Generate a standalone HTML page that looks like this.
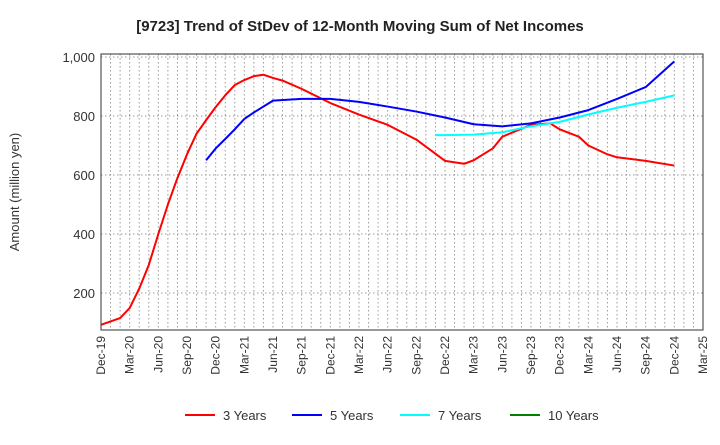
<!DOCTYPE html>
<html><head><meta charset="utf-8"><style>
body{margin:0;background:#fff;font-family:"Liberation Sans",sans-serif}
</style></head><body>
<svg id="c" width="720" height="440" xmlns="http://www.w3.org/2000/svg">
<text x="360" y="31" text-anchor="middle" font-size="15" font-weight="bold" fill="#222">[9723]  Trend of StDev of 12-Month Moving Sum of Net Incomes</text>
<text transform="translate(19,192) rotate(-90)" text-anchor="middle" font-size="13" fill="#333">Amount (million yen)</text>
<g id="grid"></g><g id="series"></g><g id="axes"></g>
<g id="legend"></g>
</svg>
<script>
const xLabels=["Dec-19","Mar-20","Jun-20","Sep-20","Dec-20","Mar-21","Jun-21","Sep-21","Dec-21","Mar-22","Jun-22","Sep-22","Dec-22","Mar-23","Jun-23","Sep-23","Dec-23","Mar-24","Jun-24","Sep-24","Dec-24","Mar-25"];
const yTicks=[200,400,600,800,1000];
const seriesNames=["3 Years","5 Years","7 Years","10 Years"];
const seriesColors=["#ff0000","#0000ff","#00ffff","#008000"];
const months3=[0,2,3,4,5,6,7,8,9,10,11,12,13,14,15,16,17,18,19,21,24,27,30,33,36,38,39,41,42,45,47,48,50,51,53,54,57,60];
const vals3=[92,115,149,215,295,400,500,590,670,740,786,830,870,905,922,935,940,929,920,892,844,805,770,720,648,638,650,690,730,770,775,755,730,700,670,660,648,632];
const months5=[11,12,13,14,15,16,18,21,24,27,30,33,36,39,42,45,48,51,54,57,60];
const vals5=[650,690,722,755,790,812,852,858,858,848,832,815,795,772,765,775,795,820,858,898,985];
const months7=[35,36,39,42,45,48,51,54,57,60];
const vals7=[735,735,737,745,765,780,805,828,848,870];
const NS="http://www.w3.org/2000/svg";
const L=101,R=703,T=54,B=330;
const X=m=>L+(R-L)*m/63;
const Y=v=>57+(1000-v)*59/200;
function mk(t,a,p){const e=document.createElementNS(NS,t);for(const k in a)e.setAttribute(k,a[k]);p.appendChild(e);return e;}
const g=document.getElementById('grid'),ax=document.getElementById('axes'),s=document.getElementById('series'),lg=document.getElementById('legend');
for(let m=1;m<63;m++){const l=mk('line',{x1:X(m),x2:X(m),y1:T,y2:B,stroke:'#999','stroke-dasharray':'1.5,2.5','stroke-width':1},g);

}
yTicks.forEach(v=>{const l=mk('line',{x1:L,x2:R,y1:Y(v),y2:Y(v),stroke:'#999','stroke-dasharray':'1.5,2.5'},g);


const t=mk('text',{x:L-6,y:Y(v)+5,'text-anchor':'end','font-size':13,fill:'#333'},ax);t.textContent=v.toLocaleString('en-US');

});
const fr=mk('rect',{x:L,y:T,width:R-L,height:B-T,fill:'none',stroke:'#333'},ax);


xLabels.forEach((lab,i)=>{const x=X(i*3);const t=mk('text',{transform:`translate(${x+4},${B+6}) rotate(-90)`,'text-anchor':'end','font-size':12,fill:'#333'},ax);t.textContent=lab;

});
function line(ms,vs,c,name){const p=mk('polyline',{points:ms.map((m,i)=>X(m)+','+Y(vs[i])).join(' '),fill:'none',stroke:c,'stroke-width':2,'stroke-linejoin':'round'},s);

}
line(months3,vals3,seriesColors[0],'line-3-years');
line(months5,vals5,seriesColors[1],'line-5-years');
line(months7,vals7,seriesColors[2],'line-7-years');
const lx=[185,292,400,510];
seriesNames.forEach((n,i)=>{const l=mk('line',{x1:lx[i],x2:lx[i]+30,y1:415,y2:415,stroke:seriesColors[i],'stroke-width':2},lg);


const t=mk('text',{x:lx[i]+38,y:420,'font-size':13,fill:'#333'},lg);t.textContent=n;

});
</script>
</body></html>
